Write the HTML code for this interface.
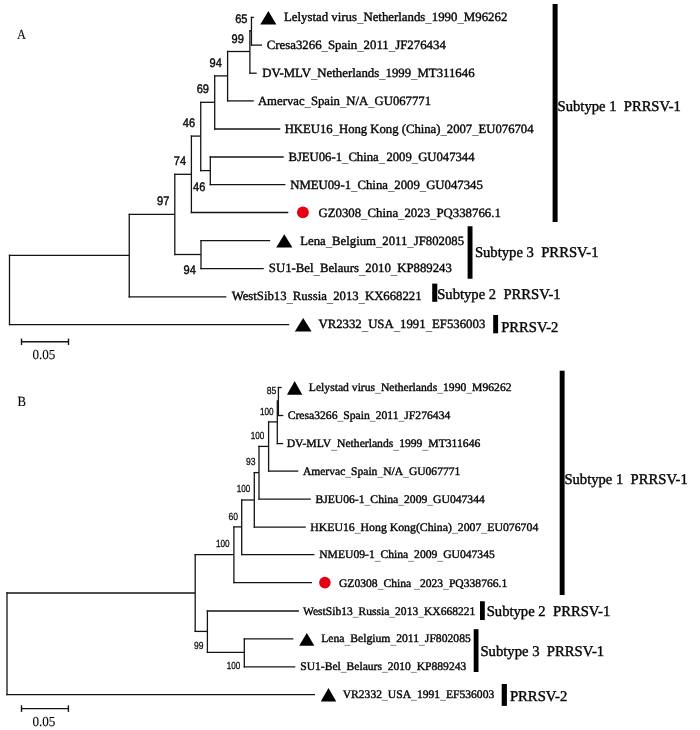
<!DOCTYPE html>
<html><head><meta charset="utf-8"><title>Phylogenetic trees</title>
<style>
html,body{margin:0;padding:0;background:#fff;}
body{width:700px;height:730px;overflow:hidden;font-family:"Liberation Serif",serif;}
svg{display:block;}
text{white-space:pre;text-rendering:geometricPrecision;}
.sf{font-family:"Liberation Serif",serif;stroke:#0a0a0a;stroke-width:0.4px;}
.ss{font-family:"Liberation Sans",sans-serif;stroke:#111;stroke-width:0.45px;}
.u{stroke-width:0;fill:#333;}
.lt{stroke-width:0.12px;}
.l2{stroke-width:0.28px;}
</style></head>
<body>
<svg width="700" height="730" viewBox="0 0 700 730">
<rect x="0" y="0" width="700" height="730" fill="#ffffff"/>
<g style="filter:grayscale(1)">
<line x1="9.50" y1="254.65" x2="9.50" y2="325.25" stroke="#141414" stroke-width="1.3"/>
<line x1="8.85" y1="324.60" x2="289.20" y2="324.60" stroke="#141414" stroke-width="1.3"/>
<line x1="8.85" y1="255.30" x2="129.25" y2="255.30" stroke="#141414" stroke-width="1.3"/>
<line x1="129.25" y1="213.65" x2="129.25" y2="297.45" stroke="#141414" stroke-width="1.3"/>
<line x1="128.60" y1="296.80" x2="226.30" y2="296.80" stroke="#141414" stroke-width="1.3"/>
<line x1="128.60" y1="214.30" x2="174.80" y2="214.30" stroke="#141414" stroke-width="1.3"/>
<line x1="174.80" y1="173.65" x2="174.80" y2="255.15" stroke="#141414" stroke-width="1.3"/>
<line x1="174.15" y1="174.30" x2="191.40" y2="174.30" stroke="#141414" stroke-width="1.3"/>
<line x1="191.40" y1="135.45" x2="191.40" y2="213.15" stroke="#141414" stroke-width="1.3"/>
<line x1="190.75" y1="212.50" x2="288.30" y2="212.50" stroke="#141414" stroke-width="1.3"/>
<line x1="190.75" y1="136.10" x2="200.75" y2="136.10" stroke="#141414" stroke-width="1.3"/>
<line x1="200.75" y1="101.65" x2="200.75" y2="171.25" stroke="#141414" stroke-width="1.3"/>
<line x1="200.10" y1="102.30" x2="214.70" y2="102.30" stroke="#141414" stroke-width="1.3"/>
<line x1="214.70" y1="75.25" x2="214.70" y2="129.65" stroke="#141414" stroke-width="1.3"/>
<line x1="214.05" y1="129.00" x2="280.30" y2="129.00" stroke="#141414" stroke-width="1.3"/>
<line x1="214.05" y1="75.90" x2="227.60" y2="75.90" stroke="#141414" stroke-width="1.3"/>
<line x1="227.60" y1="50.85" x2="227.60" y2="101.55" stroke="#141414" stroke-width="1.3"/>
<line x1="226.95" y1="100.90" x2="253.80" y2="100.90" stroke="#141414" stroke-width="1.3"/>
<line x1="226.95" y1="51.50" x2="249.90" y2="51.50" stroke="#141414" stroke-width="1.3"/>
<line x1="249.90" y1="30.25" x2="249.90" y2="73.85" stroke="#141414" stroke-width="1.3"/>
<line x1="249.25" y1="73.20" x2="256.70" y2="73.20" stroke="#141414" stroke-width="1.3"/>
<line x1="249.25" y1="30.90" x2="251.45" y2="30.90" stroke="#141414" stroke-width="1.3"/>
<line x1="251.45" y1="16.75" x2="251.45" y2="45.75" stroke="#141414" stroke-width="1.3"/>
<line x1="250.80" y1="17.40" x2="253.90" y2="17.40" stroke="#141414" stroke-width="1.3"/>
<line x1="250.80" y1="45.10" x2="262.00" y2="45.10" stroke="#141414" stroke-width="1.3"/>
<line x1="200.10" y1="170.60" x2="210.30" y2="170.60" stroke="#141414" stroke-width="1.3"/>
<line x1="210.30" y1="156.35" x2="210.30" y2="185.25" stroke="#141414" stroke-width="1.3"/>
<line x1="209.65" y1="157.00" x2="283.70" y2="157.00" stroke="#141414" stroke-width="1.3"/>
<line x1="209.65" y1="184.60" x2="285.40" y2="184.60" stroke="#141414" stroke-width="1.3"/>
<line x1="174.15" y1="254.50" x2="201.00" y2="254.50" stroke="#141414" stroke-width="1.3"/>
<line x1="201.00" y1="239.95" x2="201.00" y2="269.25" stroke="#141414" stroke-width="1.3"/>
<line x1="200.35" y1="240.60" x2="270.20" y2="240.60" stroke="#141414" stroke-width="1.3"/>
<line x1="200.35" y1="268.60" x2="263.80" y2="268.60" stroke="#141414" stroke-width="1.3"/>
<text class="sf" x="283.95" y="21.10" font-size="12.7" fill="#050505" text-anchor="start" textLength="223.35" lengthAdjust="spacingAndGlyphs">Lelystad virus<tspan class="u" dy="1.2">_</tspan><tspan dy="-1.2">Netherlands</tspan><tspan class="u" dy="1.2">_</tspan><tspan dy="-1.2">1990</tspan><tspan class="u" dy="1.2">_</tspan><tspan dy="-1.2">M96262</tspan></text>
<text class="sf" x="266.70" y="49.10" font-size="12.7" fill="#050505" text-anchor="start" textLength="179.10" lengthAdjust="spacingAndGlyphs">Cresa3266<tspan class="u" dy="1.2">_</tspan><tspan dy="-1.2">Spain</tspan><tspan class="u" dy="1.2">_</tspan><tspan dy="-1.2">2011</tspan><tspan class="u" dy="1.2">_</tspan><tspan dy="-1.2">JF276434</tspan></text>
<text class="sf" x="262.20" y="77.10" font-size="12.7" fill="#050505" text-anchor="start" textLength="212.35" lengthAdjust="spacingAndGlyphs">DV-MLV<tspan class="u" dy="1.2">_</tspan><tspan dy="-1.2">Netherlands</tspan><tspan class="u" dy="1.2">_</tspan><tspan dy="-1.2">1999</tspan><tspan class="u" dy="1.2">_</tspan><tspan dy="-1.2">MT311646</tspan></text>
<text class="sf" x="257.95" y="104.90" font-size="12.7" fill="#050505" text-anchor="start" textLength="173.10" lengthAdjust="spacingAndGlyphs">Amervac<tspan class="u" dy="1.2">_</tspan><tspan dy="-1.2">Spain</tspan><tspan class="u" dy="1.2">_</tspan><tspan dy="-1.2">N/A</tspan><tspan class="u" dy="1.2">_</tspan><tspan dy="-1.2">GU067771</tspan></text>
<text class="sf" x="284.70" y="132.90" font-size="12.7" fill="#050505" text-anchor="start" textLength="248.85" lengthAdjust="spacingAndGlyphs">HKEU16<tspan class="u" dy="1.2">_</tspan><tspan dy="-1.2">Hong Kong (China)</tspan><tspan class="u" dy="1.2">_</tspan><tspan dy="-1.2">2007</tspan><tspan class="u" dy="1.2">_</tspan><tspan dy="-1.2">EU076704</tspan></text>
<text class="sf" x="288.45" y="160.90" font-size="12.7" fill="#050505" text-anchor="start" textLength="186.10" lengthAdjust="spacingAndGlyphs">BJEU06-1<tspan class="u" dy="1.2">_</tspan><tspan dy="-1.2">China</tspan><tspan class="u" dy="1.2">_</tspan><tspan dy="-1.2" dx="1.3">2009<tspan class="u" dy="1.2">_</tspan><tspan dy="-1.2">GU047344</tspan></tspan></text>
<text class="sf" x="290.20" y="188.60" font-size="12.7" fill="#050505" text-anchor="start" textLength="192.60" lengthAdjust="spacingAndGlyphs">NMEU09-1<tspan class="u" dy="1.2">_</tspan><tspan dy="-1.2">China</tspan><tspan class="u" dy="1.2">_</tspan><tspan dy="-1.2">2009</tspan><tspan class="u" dy="1.2">_</tspan><tspan dy="-1.2">GU047345</tspan></text>
<text class="sf" x="318.45" y="216.60" font-size="12.7" fill="#050505" text-anchor="start" textLength="182.35" lengthAdjust="spacingAndGlyphs">GZ0308<tspan class="u" dy="1.2">_</tspan><tspan dy="-1.2">China</tspan><tspan class="u" dy="1.2">_</tspan><tspan dy="-1.2">2023</tspan><tspan class="u" dy="1.2">_</tspan><tspan dy="-1.2">PQ338766.1</tspan></text>
<text class="sf" x="300.20" y="244.50" font-size="12.7" fill="#050505" text-anchor="start" textLength="163.85" lengthAdjust="spacingAndGlyphs">Lena<tspan class="u" dy="1.2">_</tspan><tspan dy="-1.2">Belgium</tspan><tspan class="u" dy="1.2">_</tspan><tspan dy="-1.2">2011</tspan><tspan class="u" dy="1.2">_</tspan><tspan dy="-1.2">JF802085</tspan></text>
<text class="sf" x="268.80" y="272.40" font-size="12.7" fill="#050505" text-anchor="start" textLength="183.10" lengthAdjust="spacingAndGlyphs">SU1-Bel<tspan class="u" dy="1.2">_</tspan><tspan dy="-1.2">Belaurs</tspan><tspan class="u" dy="1.2">_</tspan><tspan dy="-1.2">2010</tspan><tspan class="u" dy="1.2">_</tspan><tspan dy="-1.2">KP889243</tspan></text>
<text class="sf" x="231.70" y="300.40" font-size="12.7" fill="#050505" text-anchor="start" textLength="189.85" lengthAdjust="spacingAndGlyphs">WestSib13<tspan class="u" dy="1.2">_</tspan><tspan dy="-1.2">Russia</tspan><tspan class="u" dy="1.2">_</tspan><tspan dy="-1.2">2013</tspan><tspan class="u" dy="1.2">_</tspan><tspan dy="-1.2">KX668221</tspan></text>
<text class="sf" x="318.45" y="328.40" font-size="12.7" fill="#050505" text-anchor="start" textLength="166.85" lengthAdjust="spacingAndGlyphs">VR2332<tspan class="u" dy="1.2">_</tspan><tspan dy="-1.2">USA</tspan><tspan class="u" dy="1.2">_</tspan><tspan dy="-1.2">1991</tspan><tspan class="u" dy="1.2">_</tspan><tspan dy="-1.2">EF536003</tspan></text>
<polygon points="260.30,24.50 276.40,24.50 268.35,11.00" fill="#000"/>
<polygon points="276.20,247.40 292.40,247.40 284.30,234.20" fill="#000"/>
<polygon points="294.80,331.60 311.60,331.60 303.20,318.00" fill="#000"/>
<text class="ss" x="247.50" y="22.50" font-size="12.4" fill="#050505" text-anchor="end" textLength="12.30" lengthAdjust="spacingAndGlyphs">65</text>
<text class="ss" x="243.80" y="42.50" font-size="12.4" fill="#050505" text-anchor="end" textLength="12.30" lengthAdjust="spacingAndGlyphs">99</text>
<text class="ss" x="221.80" y="67.10" font-size="12.4" fill="#050505" text-anchor="end" textLength="12.30" lengthAdjust="spacingAndGlyphs">94</text>
<text class="ss" x="209.00" y="93.00" font-size="12.4" fill="#050505" text-anchor="end" textLength="12.30" lengthAdjust="spacingAndGlyphs">69</text>
<text class="ss" x="195.10" y="127.10" font-size="12.4" fill="#050505" text-anchor="end" textLength="12.30" lengthAdjust="spacingAndGlyphs">46</text>
<text class="ss" x="186.10" y="165.40" font-size="12.4" fill="#050505" text-anchor="end" textLength="12.30" lengthAdjust="spacingAndGlyphs">74</text>
<text class="ss" x="205.40" y="190.70" font-size="12.4" fill="#050505" text-anchor="end" textLength="12.30" lengthAdjust="spacingAndGlyphs">46</text>
<text class="ss" x="169.40" y="205.40" font-size="12.4" fill="#050505" text-anchor="end" textLength="12.30" lengthAdjust="spacingAndGlyphs">97</text>
<text class="ss" x="195.80" y="274.40" font-size="12.4" fill="#050505" text-anchor="end" textLength="12.30" lengthAdjust="spacingAndGlyphs">94</text>
<rect x="552.60" y="4.00" width="5.00" height="218.00" fill="#000"/>
<text class="sf" x="557.60" y="110.95" font-size="14.8" fill="#050505" text-anchor="start" textLength="123.30" lengthAdjust="spacingAndGlyphs">Subtype 1  PRRSV-1</text>
<rect x="467.60" y="226.25" width="4.90" height="52.50" fill="#000"/>
<text class="sf" x="474.90" y="257.35" font-size="14.8" fill="#050505" text-anchor="start" textLength="123.60" lengthAdjust="spacingAndGlyphs">Subtype 3  PRRSV-1</text>
<rect x="432.20" y="283.60" width="5.10" height="18.20" fill="#000"/>
<text class="sf" x="437.20" y="299.10" font-size="14.8" fill="#050505" text-anchor="start" textLength="123.40" lengthAdjust="spacingAndGlyphs">Subtype 2  PRRSV-1</text>
<rect x="493.20" y="315.00" width="4.90" height="18.30" fill="#000"/>
<text class="sf" x="501.20" y="331.55" font-size="14.8" fill="#050505" text-anchor="start" textLength="57.20" lengthAdjust="spacingAndGlyphs">PRRSV-2</text>
<line x1="21.50" y1="341.75" x2="68.50" y2="341.75" stroke="#141414" stroke-width="1.4"/>
<line x1="21.50" y1="338.60" x2="21.50" y2="345.00" stroke="#141414" stroke-width="1.4"/>
<line x1="68.50" y1="338.60" x2="68.50" y2="345.00" stroke="#141414" stroke-width="1.4"/>
<text class="sf lt" x="32.50" y="358.50" font-size="13.7" fill="#050505" text-anchor="start" textLength="22.90" lengthAdjust="spacingAndGlyphs">0.05</text>
<text class="sf lt" x="16.90" y="38.50" font-size="13.8" fill="#050505" text-anchor="start" textLength="9.00" lengthAdjust="spacingAndGlyphs">A</text>
<line x1="7.00" y1="592.35" x2="7.00" y2="695.35" stroke="#141414" stroke-width="1.3"/>
<line x1="6.35" y1="694.70" x2="315.00" y2="694.70" stroke="#141414" stroke-width="1.3"/>
<line x1="6.35" y1="593.00" x2="195.20" y2="593.00" stroke="#141414" stroke-width="1.3"/>
<line x1="195.20" y1="554.05" x2="195.20" y2="632.05" stroke="#141414" stroke-width="1.3"/>
<line x1="194.55" y1="554.70" x2="233.90" y2="554.70" stroke="#141414" stroke-width="1.3"/>
<line x1="233.90" y1="526.25" x2="233.90" y2="583.35" stroke="#141414" stroke-width="1.3"/>
<line x1="233.25" y1="582.70" x2="312.00" y2="582.70" stroke="#141414" stroke-width="1.3"/>
<line x1="233.25" y1="526.90" x2="241.70" y2="526.90" stroke="#141414" stroke-width="1.3"/>
<line x1="241.70" y1="499.35" x2="241.70" y2="555.25" stroke="#141414" stroke-width="1.3"/>
<line x1="241.05" y1="554.60" x2="314.50" y2="554.60" stroke="#141414" stroke-width="1.3"/>
<line x1="241.05" y1="500.00" x2="254.30" y2="500.00" stroke="#141414" stroke-width="1.3"/>
<line x1="254.30" y1="471.95" x2="254.30" y2="527.85" stroke="#141414" stroke-width="1.3"/>
<line x1="253.65" y1="527.20" x2="305.80" y2="527.20" stroke="#141414" stroke-width="1.3"/>
<line x1="253.65" y1="472.60" x2="259.00" y2="472.60" stroke="#141414" stroke-width="1.3"/>
<line x1="259.00" y1="445.75" x2="259.00" y2="499.75" stroke="#141414" stroke-width="1.3"/>
<line x1="258.35" y1="499.10" x2="310.80" y2="499.10" stroke="#141414" stroke-width="1.3"/>
<line x1="258.35" y1="446.40" x2="268.60" y2="446.40" stroke="#141414" stroke-width="1.3"/>
<line x1="268.60" y1="421.25" x2="268.60" y2="471.75" stroke="#141414" stroke-width="1.3"/>
<line x1="267.95" y1="471.10" x2="298.30" y2="471.10" stroke="#141414" stroke-width="1.3"/>
<line x1="267.95" y1="421.90" x2="277.30" y2="421.90" stroke="#141414" stroke-width="1.3"/>
<line x1="277.30" y1="400.35" x2="277.30" y2="444.25" stroke="#141414" stroke-width="1.3"/>
<line x1="276.65" y1="443.60" x2="283.20" y2="443.60" stroke="#141414" stroke-width="1.3"/>
<line x1="278.40" y1="386.85" x2="278.40" y2="416.15" stroke="#141414" stroke-width="1.3"/>
<line x1="277.75" y1="387.50" x2="281.70" y2="387.50" stroke="#141414" stroke-width="1.3"/>
<line x1="277.75" y1="415.50" x2="283.30" y2="415.50" stroke="#141414" stroke-width="1.3"/>
<line x1="194.55" y1="631.40" x2="207.40" y2="631.40" stroke="#141414" stroke-width="1.3"/>
<line x1="207.40" y1="610.35" x2="207.40" y2="653.05" stroke="#141414" stroke-width="1.3"/>
<line x1="206.75" y1="611.00" x2="298.90" y2="611.00" stroke="#141414" stroke-width="1.3"/>
<line x1="206.75" y1="652.40" x2="244.30" y2="652.40" stroke="#141414" stroke-width="1.3"/>
<line x1="244.30" y1="638.25" x2="244.30" y2="667.45" stroke="#141414" stroke-width="1.3"/>
<line x1="243.65" y1="638.90" x2="293.40" y2="638.90" stroke="#141414" stroke-width="1.3"/>
<line x1="243.65" y1="666.80" x2="295.30" y2="666.80" stroke="#141414" stroke-width="1.3"/>
<text class="sf" x="308.80" y="391.15" font-size="11.6" fill="#050505" text-anchor="start" textLength="202.80" lengthAdjust="spacingAndGlyphs">Lelystad virus<tspan class="u" dy="1.1">_</tspan><tspan dy="-1.1">Netherlands</tspan><tspan class="u" dy="1.1">_</tspan><tspan dy="-1.1">1990</tspan><tspan class="u" dy="1.1">_</tspan><tspan dy="-1.1">M96262</tspan></text>
<text class="sf" x="287.70" y="419.30" font-size="11.6" fill="#050505" text-anchor="start" textLength="162.60" lengthAdjust="spacingAndGlyphs">Cresa3266<tspan class="u" dy="1.1">_</tspan><tspan dy="-1.1">Spain</tspan><tspan class="u" dy="1.1">_</tspan><tspan dy="-1.1">2011</tspan><tspan class="u" dy="1.1">_</tspan><tspan dy="-1.1">JF276434</tspan></text>
<text class="sf" x="286.70" y="447.40" font-size="11.6" fill="#050505" text-anchor="start" textLength="193.60" lengthAdjust="spacingAndGlyphs">DV-MLV<tspan class="u" dy="1.1">_</tspan><tspan dy="-1.1">Netherlands</tspan><tspan class="u" dy="1.1">_</tspan><tspan dy="-1.1">1999</tspan><tspan class="u" dy="1.1">_</tspan><tspan dy="-1.1">MT311646</tspan></text>
<text class="sf" x="302.90" y="474.90" font-size="11.6" fill="#050505" text-anchor="start" textLength="157.40" lengthAdjust="spacingAndGlyphs">Amervac<tspan class="u" dy="1.1">_</tspan><tspan dy="-1.1">Spain</tspan><tspan class="u" dy="1.1">_</tspan><tspan dy="-1.1">N/A</tspan><tspan class="u" dy="1.1">_</tspan><tspan dy="-1.1">GU067771</tspan></text>
<text class="sf" x="315.45" y="502.90" font-size="11.6" fill="#050505" text-anchor="start" textLength="169.35" lengthAdjust="spacingAndGlyphs">BJEU06-1<tspan class="u" dy="1.1">_</tspan><tspan dy="-1.1">China</tspan><tspan class="u" dy="1.1">_</tspan><tspan dy="-1.1">2009</tspan><tspan class="u" dy="1.1">_</tspan><tspan dy="-1.1">GU047344</tspan></text>
<text class="sf" x="310.20" y="531.00" font-size="11.6" fill="#050505" text-anchor="start" textLength="228.10" lengthAdjust="spacingAndGlyphs">HKEU16<tspan class="u" dy="1.1">_</tspan><tspan dy="-1.1">Hong Kong(China)</tspan><tspan class="u" dy="1.1">_</tspan><tspan dy="-1.1">2007</tspan><tspan class="u" dy="1.1">_</tspan><tspan dy="-1.1">EU076704</tspan></text>
<text class="sf" x="319.20" y="558.40" font-size="11.6" fill="#050505" text-anchor="start" textLength="175.60" lengthAdjust="spacingAndGlyphs">NMEU09-1<tspan class="u" dy="1.1">_</tspan><tspan dy="-1.1">China</tspan><tspan class="u" dy="1.1">_</tspan><tspan dy="-1.1">2009</tspan><tspan class="u" dy="1.1">_</tspan><tspan dy="-1.1">GU047345</tspan></text>
<text class="sf" x="338.95" y="586.50" font-size="11.6" fill="#050505" text-anchor="start" textLength="168.35" lengthAdjust="spacingAndGlyphs">GZ0308<tspan class="u" dy="1.1">_</tspan><tspan dy="-1.1">China </tspan><tspan class="u" dy="1.1">_</tspan><tspan dy="-1.1">2023</tspan><tspan class="u" dy="1.1">_</tspan><tspan dy="-1.1">PQ338766.1</tspan></text>
<text class="sf" x="302.95" y="614.80" font-size="11.6" fill="#050505" text-anchor="start" textLength="172.35" lengthAdjust="spacingAndGlyphs">WestSib13<tspan class="u" dy="1.1">_</tspan><tspan dy="-1.1">Russia</tspan><tspan class="u" dy="1.1">_</tspan><tspan dy="-1.1">2013</tspan><tspan class="u" dy="1.1">_</tspan><tspan dy="-1.1">KX668221</tspan></text>
<text class="sf" x="321.20" y="642.40" font-size="11.6" fill="#050505" text-anchor="start" textLength="149.60" lengthAdjust="spacingAndGlyphs">Lena<tspan class="u" dy="1.1">_</tspan><tspan dy="-1.1">Belgium</tspan><tspan class="u" dy="1.1">_</tspan><tspan dy="-1.1">2011</tspan><tspan class="u" dy="1.1">_</tspan><tspan dy="-1.1">JF802085</tspan></text>
<text class="sf" x="300.20" y="670.30" font-size="11.6" fill="#050505" text-anchor="start" textLength="166.10" lengthAdjust="spacingAndGlyphs">SU1-Bel<tspan class="u" dy="1.1">_</tspan><tspan dy="-1.1">Belaurs</tspan><tspan class="u" dy="1.1">_</tspan><tspan dy="-1.1">2010</tspan><tspan class="u" dy="1.1">_</tspan><tspan dy="-1.1">KP889243</tspan></text>
<text class="sf" x="342.70" y="698.20" font-size="11.6" fill="#050505" text-anchor="start" textLength="151.60" lengthAdjust="spacingAndGlyphs">VR2332<tspan class="u" dy="1.1">_</tspan><tspan dy="-1.1">USA</tspan><tspan class="u" dy="1.1">_</tspan><tspan dy="-1.1">1991</tspan><tspan class="u" dy="1.1">_</tspan><tspan dy="-1.1">EF536003</tspan></text>
<polygon points="287.00,394.80 302.30,394.80 294.65,380.90" fill="#000"/>
<polygon points="299.20,645.70 314.40,645.70 306.80,632.90" fill="#000"/>
<polygon points="320.75,701.40 336.25,701.40 328.50,688.00" fill="#000"/>
<text class="ss l2" x="276.30" y="394.10" font-size="10.3" fill="#050505" text-anchor="end" textLength="9.50" lengthAdjust="spacingAndGlyphs">85</text>
<text class="ss l2" x="273.60" y="414.80" font-size="10.3" fill="#050505" text-anchor="end" textLength="13.60" lengthAdjust="spacingAndGlyphs">100</text>
<text class="ss l2" x="264.30" y="439.10" font-size="10.3" fill="#050505" text-anchor="end" textLength="13.60" lengthAdjust="spacingAndGlyphs">100</text>
<text class="ss l2" x="255.60" y="465.20" font-size="10.3" fill="#050505" text-anchor="end" textLength="9.50" lengthAdjust="spacingAndGlyphs">93</text>
<text class="ss l2" x="250.30" y="492.30" font-size="10.3" fill="#050505" text-anchor="end" textLength="13.60" lengthAdjust="spacingAndGlyphs">100</text>
<text class="ss l2" x="237.90" y="519.50" font-size="10.3" fill="#050505" text-anchor="end" textLength="9.50" lengthAdjust="spacingAndGlyphs">60</text>
<text class="ss l2" x="229.60" y="547.30" font-size="10.3" fill="#050505" text-anchor="end" textLength="13.60" lengthAdjust="spacingAndGlyphs">100</text>
<text class="ss l2" x="203.60" y="648.50" font-size="10.3" fill="#050505" text-anchor="end" textLength="9.50" lengthAdjust="spacingAndGlyphs">99</text>
<text class="ss l2" x="240.30" y="669.20" font-size="10.3" fill="#050505" text-anchor="end" textLength="13.60" lengthAdjust="spacingAndGlyphs">100</text>
<rect x="559.70" y="370.70" width="4.90" height="224.30" fill="#000"/>
<text class="sf" x="564.40" y="483.50" font-size="14.8" fill="#050505" text-anchor="start" textLength="123.40" lengthAdjust="spacingAndGlyphs">Subtype 1  PRRSV-1</text>
<rect x="480.00" y="601.25" width="4.80" height="18.75" fill="#000"/>
<text class="sf" x="486.70" y="616.40" font-size="14.8" fill="#050505" text-anchor="start" textLength="123.60" lengthAdjust="spacingAndGlyphs">Subtype 2  PRRSV-1</text>
<rect x="473.70" y="629.20" width="4.80" height="42.80" fill="#000"/>
<text class="sf" x="480.40" y="656.00" font-size="14.8" fill="#050505" text-anchor="start" textLength="123.80" lengthAdjust="spacingAndGlyphs">Subtype 3  PRRSV-1</text>
<rect x="501.70" y="684.00" width="5.20" height="21.90" fill="#000"/>
<text class="sf" x="509.90" y="701.10" font-size="14.8" fill="#050505" text-anchor="start" textLength="57.40" lengthAdjust="spacingAndGlyphs">PRRSV-2</text>
<line x1="21.50" y1="708.60" x2="68.40" y2="708.60" stroke="#141414" stroke-width="1.4"/>
<line x1="21.50" y1="705.30" x2="21.50" y2="711.90" stroke="#141414" stroke-width="1.4"/>
<line x1="68.40" y1="705.30" x2="68.40" y2="711.90" stroke="#141414" stroke-width="1.4"/>
<text class="sf lt" x="32.50" y="725.50" font-size="13.7" fill="#050505" text-anchor="start" textLength="22.90" lengthAdjust="spacingAndGlyphs">0.05</text>
<text class="sf lt" x="17.60" y="406.40" font-size="14.0" fill="#050505" text-anchor="start" textLength="8.50" lengthAdjust="spacingAndGlyphs">B</text>
</g>
<circle cx="302.90" cy="212.40" r="5.95" fill="#e60012"/>
<circle cx="324.90" cy="582.60" r="5.80" fill="#e60012"/>
</svg>
</body></html>
